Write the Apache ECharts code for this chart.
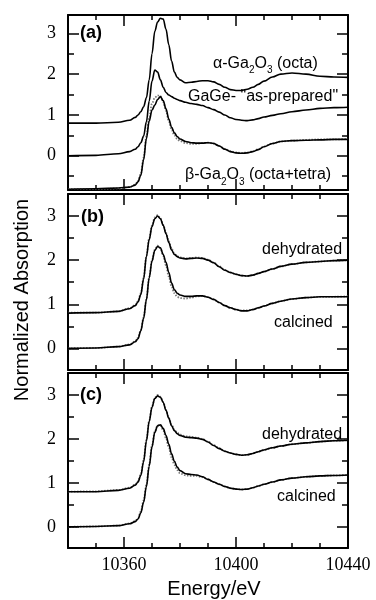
<!DOCTYPE html>
<html>
<head>
<meta charset="utf-8">
<script src="https://cdn.jsdelivr.net/npm/echarts@6/dist/echarts.min.js"></script>
<style>
html,body{margin:0;padding:0;background:#fff;}
#chart{width:376px;height:600px;}
</style>
</head>
<body>
<div id="chart"></div>
<script>
// Photon energy grid (eV)
const energy = [10340, 10350, 10358, 10362, 10364, 10365, 10366, 10367, 10368, 10369, 10370, 10371, 10372, 10373, 10374, 10375, 10376, 10377, 10378, 10379, 10380, 10382, 10384, 10386, 10388, 10390, 10392, 10394, 10396, 10398, 10400, 10402, 10404, 10406, 10408, 10410, 10413, 10416, 10420, 10425, 10430, 10435, 10440];

// Panel (a)
const alphaGa2O3 = [0.80, 0.80, 0.82, 0.87, 0.94, 1.00, 1.08, 1.20, 1.42, 1.86, 2.50, 3.05, 3.28, 3.37, 3.35, 3.10, 2.72, 2.32, 2.05, 1.92, 1.86, 1.79, 1.80, 1.82, 1.84, 1.84, 1.81, 1.75, 1.68, 1.62, 1.60, 1.60, 1.63, 1.68, 1.75, 1.83, 1.93, 2.00, 2.03, 2.00, 1.95, 1.93, 1.92];
const gageAsPrepared = [0.00, 0.01, 0.05, 0.10, 0.16, 0.22, 0.32, 0.48, 0.83, 1.34, 1.83, 2.10, 2.05, 1.86, 1.68, 1.55, 1.49, 1.45, 1.41, 1.38, 1.35, 1.31, 1.28, 1.26, 1.23, 1.18, 1.13, 1.07, 1.00, 0.93, 0.89, 0.87, 0.86, 0.88, 0.91, 0.95, 0.99, 1.03, 1.08, 1.12, 1.16, 1.18, 1.19];
const betaGa2O3 = [-0.82, -0.81, -0.79, -0.77, -0.72, -0.64, -0.48, -0.10, 0.42, 0.85, 1.12, 1.24, 1.38, 1.45, 1.35, 1.15, 0.90, 0.70, 0.56, 0.47, 0.41, 0.35, 0.32, 0.31, 0.31, 0.32, 0.30, 0.24, 0.16, 0.10, 0.07, 0.06, 0.07, 0.10, 0.15, 0.22, 0.30, 0.35, 0.37, 0.38, 0.39, 0.40, 0.40];
const betaGa2O3Fit = [-0.82, -0.82, -0.80, -0.77, -0.71, -0.62, -0.44, -0.05, 0.48, 0.95, 1.28, 1.42, 1.48, 1.46, 1.32, 1.10, 0.85, 0.63, 0.50, 0.41, 0.36, 0.31, 0.29, 0.29, 0.31, 0.32, 0.30, 0.24, 0.17, 0.11, 0.08, 0.07, 0.08, 0.11, 0.16, 0.23, 0.30, 0.35, 0.37, 0.39, 0.40, 0.40, 0.41];

// Panel (b)
const dehydratedB = [0.80, 0.81, 0.84, 0.90, 0.97, 1.05, 1.22, 1.57, 2.08, 2.47, 2.76, 2.94, 3.00, 2.94, 2.79, 2.60, 2.40, 2.23, 2.13, 2.08, 2.05, 2.03, 2.04, 2.05, 2.04, 2.00, 1.94, 1.85, 1.77, 1.72, 1.68, 1.65, 1.64, 1.66, 1.70, 1.74, 1.80, 1.86, 1.91, 1.95, 1.97, 1.99, 2.00];
const dehydratedBFit = [0.81, 0.81, 0.84, 0.91, 0.98, 1.07, 1.25, 1.60, 2.10, 2.50, 2.79, 2.97, 3.02, 2.95, 2.80, 2.62, 2.43, 2.26, 2.15, 2.09, 2.06, 2.04, 2.05, 2.06, 2.05, 2.01, 1.95, 1.86, 1.78, 1.72, 1.68, 1.65, 1.64, 1.66, 1.70, 1.74, 1.80, 1.86, 1.91, 1.95, 1.97, 1.99, 2.00];
const calcinedB = [0.00, 0.01, 0.04, 0.08, 0.15, 0.22, 0.40, 0.68, 1.10, 1.60, 1.98, 2.22, 2.31, 2.28, 2.13, 1.95, 1.72, 1.48, 1.33, 1.25, 1.21, 1.18, 1.18, 1.19, 1.19, 1.16, 1.11, 1.04, 0.97, 0.92, 0.88, 0.85, 0.85, 0.88, 0.92, 0.96, 1.02, 1.07, 1.12, 1.15, 1.17, 1.17, 1.17];
const calcinedBFit = [0.00, 0.01, 0.04, 0.09, 0.16, 0.24, 0.42, 0.70, 1.12, 1.62, 2.00, 2.24, 2.33, 2.27, 2.10, 1.88, 1.63, 1.40, 1.25, 1.17, 1.14, 1.13, 1.15, 1.18, 1.19, 1.16, 1.11, 1.04, 0.97, 0.92, 0.88, 0.86, 0.86, 0.88, 0.92, 0.96, 1.02, 1.07, 1.12, 1.15, 1.17, 1.17, 1.18];

// Panel (c)
const dehydratedC = [0.80, 0.80, 0.83, 0.88, 0.95, 1.02, 1.17, 1.48, 1.95, 2.40, 2.72, 2.92, 2.98, 2.95, 2.83, 2.65, 2.47, 2.30, 2.19, 2.12, 2.08, 2.04, 2.03, 2.02, 1.99, 1.93, 1.85, 1.78, 1.72, 1.68, 1.65, 1.63, 1.64, 1.67, 1.71, 1.75, 1.80, 1.84, 1.88, 1.91, 1.94, 1.96, 1.97];
const dehydratedCFit = [0.80, 0.81, 0.84, 0.89, 0.96, 1.04, 1.20, 1.52, 1.98, 2.42, 2.74, 2.94, 3.00, 2.96, 2.84, 2.66, 2.48, 2.32, 2.21, 2.14, 2.10, 2.06, 2.05, 2.03, 2.00, 1.94, 1.86, 1.79, 1.72, 1.68, 1.65, 1.63, 1.64, 1.67, 1.71, 1.75, 1.80, 1.84, 1.88, 1.91, 1.94, 1.96, 1.97];
const calcinedC = [0.00, 0.01, 0.03, 0.07, 0.12, 0.18, 0.32, 0.56, 0.92, 1.38, 1.82, 2.15, 2.30, 2.32, 2.24, 2.08, 1.88, 1.66, 1.49, 1.36, 1.28, 1.21, 1.19, 1.18, 1.14, 1.08, 1.02, 0.97, 0.92, 0.88, 0.86, 0.85, 0.86, 0.89, 0.93, 0.97, 1.02, 1.07, 1.11, 1.14, 1.16, 1.17, 1.18];
const calcinedCFit = [0.00, 0.01, 0.03, 0.08, 0.13, 0.20, 0.35, 0.60, 0.96, 1.42, 1.85, 2.17, 2.31, 2.31, 2.20, 2.02, 1.80, 1.58, 1.41, 1.29, 1.22, 1.17, 1.16, 1.16, 1.13, 1.08, 1.02, 0.97, 0.92, 0.88, 0.86, 0.85, 0.86, 0.89, 0.93, 0.97, 1.02, 1.07, 1.11, 1.14, 1.16, 1.17, 1.18];

// Tick labels
const xMajorTicks = [10360, 10400, 10440];
const yMajorTicks = [0, 1, 2, 3];
const yMinorTicks = [-0.5, 0, 0.5, 1, 1.5, 2, 2.5, 3];

const panels = [
  { top: 15, height: 175, ymin: -0.84, ymax: 3.45, lines: [alphaGa2O3, gageAsPrepared, betaGa2O3], fits: [betaGa2O3Fit] },
  { top: 194, height: 176, ymin: -0.49, ymax: 3.5, lines: [dehydratedB, calcinedB], fits: [dehydratedBFit, calcinedBFit] },
  { top: 373, height: 175, ymin: -0.48, ymax: 3.5, lines: [dehydratedC, calcinedC], fits: [dehydratedCFit, calcinedCFit] }
];

const SERIF = '"Liberation Serif", "DejaVu Serif", serif';
const SANS = '"Liberation Sans", Arial, sans-serif';
const tickLine = { color: '#000', width: 1.5 };
const frameLine = { show: true, onZero: false, lineStyle: { color: '#000', width: 2 } };

const grid = [], xAxis = [], yAxis = [], series = [];
panels.forEach((p, i) => {
  grid.push({ left: 68, right: 28, top: p.top, height: p.height });
  const xb = { gridIndex: i, type: 'value', min: 10340, max: 10440, splitLine: { show: false }, axisLabel: { show: false } };
  xAxis.push(
    Object.assign({}, xb, {
      position: 'bottom', interval: 10, axisLine: frameLine,
      axisTick: { show: true, inside: true, length: 5, lineStyle: tickLine },
      axisLabel: i === 2 ? {
        show: true, customValues: xMajorTicks,
        formatter: v => (xMajorTicks.indexOf(v) >= 0 ? String(v) : ''),
        color: '#000', fontFamily: SERIF, fontSize: 18, margin: 8
      } : { show: false }
    }),
    Object.assign({}, xb, { position: 'bottom', axisLine: { show: false, onZero: false },
      axisTick: { show: true, inside: true, length: 11, customValues: xMajorTicks, lineStyle: tickLine } }),
    Object.assign({}, xb, { position: 'top', interval: 10, axisLine: frameLine,
      axisTick: { show: true, inside: true, length: 5, lineStyle: tickLine } }),
    Object.assign({}, xb, { position: 'top', axisLine: { show: false, onZero: false },
      axisTick: { show: true, inside: true, length: 11, customValues: xMajorTicks, lineStyle: tickLine } })
  );
  const yb = { gridIndex: i, type: 'value', min: p.ymin, max: p.ymax, splitLine: { show: false }, axisLabel: { show: false } };
  yAxis.push(
    Object.assign({}, yb, { position: 'left', axisLine: frameLine,
      axisTick: { show: true, inside: true, length: 6, customValues: yMinorTicks, lineStyle: tickLine },
      axisLabel: { show: true, customValues: yMajorTicks,
        formatter: v => (yMajorTicks.indexOf(v) >= 0 ? String(v) : ''),
        color: '#000', fontFamily: SERIF, fontSize: 18, margin: 12 } }),
    Object.assign({}, yb, { position: 'left', axisLine: { show: false, onZero: false },
      axisTick: { show: true, inside: true, length: 11, customValues: yMajorTicks, lineStyle: tickLine } }),
    Object.assign({}, yb, { position: 'right', axisLine: frameLine,
      axisTick: { show: true, inside: true, length: 6, customValues: yMinorTicks, lineStyle: tickLine } }),
    Object.assign({}, yb, { position: 'right', axisLine: { show: false, onZero: false },
      axisTick: { show: true, inside: true, length: 11, customValues: yMajorTicks, lineStyle: tickLine } })
  );
  p.fits.forEach(arr => series.push({
    type: 'line', xAxisIndex: 4 * i, yAxisIndex: 4 * i, z: 2,
    data: energy.map((e, j) => [e, arr[j]]),
    showSymbol: false, smooth: 0.35, smoothMonotone: 'x', silent: true,
    lineStyle: { color: '#7a7a7a', width: 1.8, type: [1.5, 1.5] }
  }));
  p.lines.forEach(arr => series.push({
    type: 'line', xAxisIndex: 4 * i, yAxisIndex: 4 * i, z: 3,
    data: energy.map((e, j) => [e, arr[j]]),
    showSymbol: false, smooth: 0.35, smoothMonotone: 'x', silent: true,
    lineStyle: { color: '#000', width: 1.6 }
  }));
});

const f16 = '16px ' + SANS;
const f10 = '10px ' + SANS;
const fBold = 'bold 18px ' + SANS;
const measureCtx = document.createElement('canvas').getContext('2d');
function textWidth(t, font) { measureCtx.font = font; return measureCtx.measureText(t).width; }

function txt(x, y, text, font) {
  return {
    type: 'text', x: x, y: y, silent: true, z: 10,
    style: { text: text, font: font, fill: '#000', align: 'left', verticalAlign: 'middle', textAlign: 'left', textVerticalAlign: 'middle' }
  };
}
// formula label with subscripts: parts = [[text, isSub], ...]
function formula(x, y, parts) {
  const out = [];
  let cx = x;
  parts.forEach(([t, sub]) => {
    const font = sub ? f10 : f16;
    out.push(txt(cx, sub ? y + 7 : y, t, font));
    cx += textWidth(t, font);
  });
  return out;
}

const graphic = [
  // axis titles
  { type: 'text', x: 22.5, y: 300, rotation: Math.PI / 2, silent: true,
    style: { text: 'Normalized Absorption', font: '20px ' + SANS, fill: '#000', align: 'center', verticalAlign: 'middle', textAlign: 'center', textVerticalAlign: 'middle' } },
  { type: 'text', x: 214, y: 589, silent: true,
    style: { text: 'Energy/eV', font: '20px ' + SANS, fill: '#000', align: 'center', verticalAlign: 'middle', textAlign: 'center', textVerticalAlign: 'middle' } },
  // panel letters
  txt(80, 33.5, '(a)', fBold),
  txt(81, 217, '(b)', fBold),
  txt(80, 395, '(c)', fBold),
  // panel (a) annotations
  ...formula(213, 63.3, [['α-Ga', false], ['2', true], ['O', false], ['3', true], [' (octa)', false]]),
  txt(188, 97, 'GaGe- "as-prepared"', f16),
  ...formula(185, 175, [['β-Ga', false], ['2', true], ['O', false], ['3', true], [' (octa+tetra)', false]]),
  // panel (b)
  txt(262, 250, 'dehydrated', f16),
  txt(274, 323, 'calcined', f16),
  // panel (c)
  txt(262, 435, 'dehydrated', f16),
  txt(277, 497, 'calcined', f16)
];

const chart = echarts.init(document.getElementById('chart'), null, { renderer: 'canvas' });
chart.setOption({
  animation: false,
  backgroundColor: '#fff',
  grid: grid,
  xAxis: xAxis,
  yAxis: yAxis,
  series: series,
  graphic: { elements: graphic }
});
</script>
</body>
</html>
